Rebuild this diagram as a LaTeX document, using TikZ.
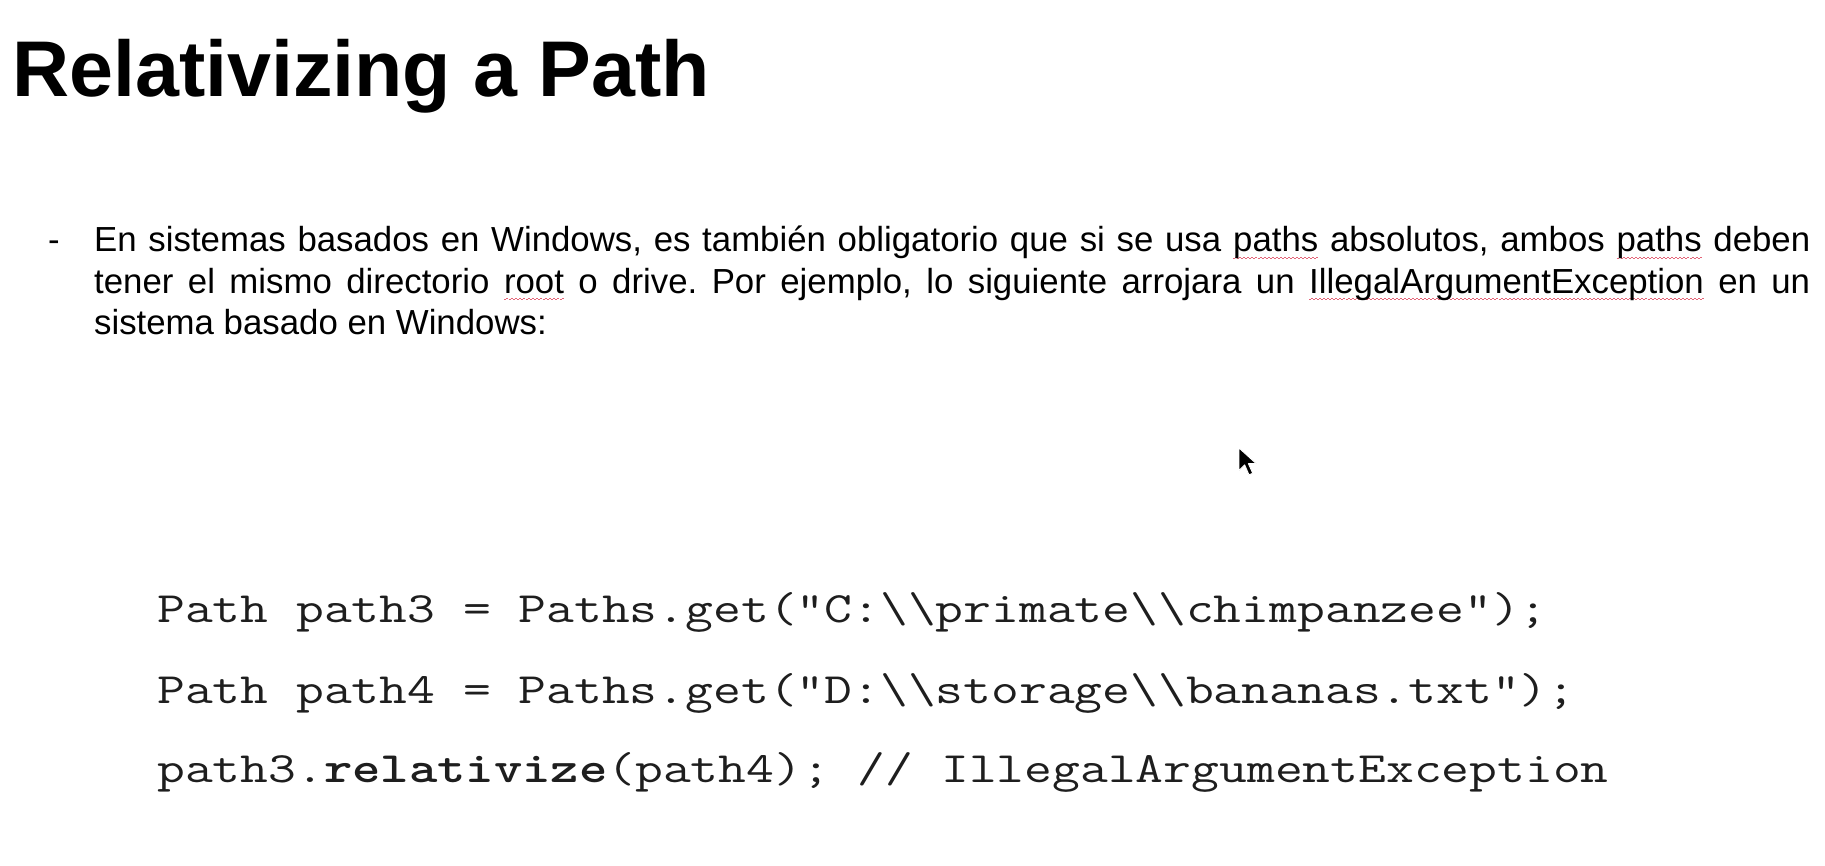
\documentclass[tikz,border=0pt]{standalone}
\usepackage{fontspec}
\setmainfont{Liberation Sans}
\usepackage{graphicx}
\definecolor{wavered}{RGB}{228,100,120}
\definecolor{codegray}{RGB}{30,30,30}
\newcommand\sqw[1]{\setbox0=\hbox{#1}\rlap{\textcolor{wavered}{\raisebox{-7pt}{\hbox to \wd0{\xleaders\hbox to 4pt{\rule{2pt}{1pt}\rule[1.3pt]{2pt}{1pt}}\hfill}}}}\box0\relax}
\tikzset{
  titletext/.style={anchor=base west, inner sep=0pt, font=\fontsize{79}{90}\selectfont\bfseries},
  bodyline/.style={anchor=base west, inner sep=0pt, font=\fontsize{34.8}{41.5}\selectfont\frenchspacing},
  codeline/.style={anchor=base west, inner sep=0pt, text=codegray, font=\fontsize{54}{60}\selectfont\ttfamily},
}
\begin{document}
\begin{tikzpicture}[x=1pt,y=-1pt]
\useasboundingbox (0,0) rectangle (1825,866);
\fill[white] (0,0) rectangle (1825,866);
\node[titletext] (title) at (12,97) {Relativizing a Path};
\node[bodyline] (dash) at (48,252) {-};
\node[bodyline] (l1) at (94,252) {\makebox[1716pt][s]{En sistemas basados en Windows, es también obligatorio que si se usa \sqw{paths} absolutos, ambos \sqw{paths} deben}};
\node[bodyline] (l2) at (94,293.5) {\makebox[1716pt][s]{tener el mismo directorio \sqw{root} o drive. Por ejemplo, lo siguiente arrojara un \sqw{IllegalArgumentException} en un}};
\node[bodyline] (l3) at (94,335) {sistema basado en Windows:};
\node[codeline] (c1) at (157,622) {\scalebox{1}[0.8]{Path path3 = Paths.get("C:\textbackslash\textbackslash primate\textbackslash\textbackslash chimpanzee");}};
\node[codeline] (c2) at (157,703) {\scalebox{1}[0.8]{Path path4 = Paths.get("D:\textbackslash\textbackslash storage\textbackslash\textbackslash bananas.txt");}};
\node[codeline] (c3) at (157,782) {\scalebox{1}[0.8]{path3.\textbf{relativize}(path4); // IllegalArgumentException}};
\fill[black, draw=white, line width=0.9pt, line join=round, shift={(1239,448)}, scale=1.25] (0,0) -- (0,18) -- (4.5,13.5) -- (8,21.5) -- (11,20.2) -- (7.5,12.5) -- (13.8,12.5) -- cycle;
\end{tikzpicture}
\end{document}
